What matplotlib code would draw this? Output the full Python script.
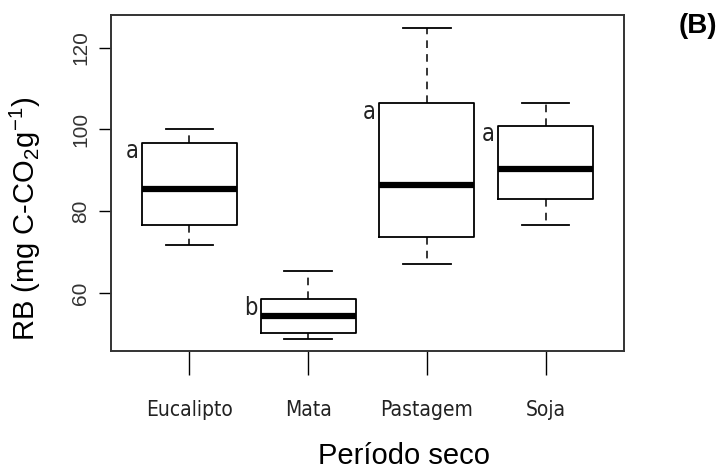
import matplotlib
matplotlib.use('Agg')
import matplotlib.pyplot as plt

# Box statistics (RB, dry period)
categories = ['Eucalipto', 'Mata', 'Pastagem', 'Soja']
whis_low = [71.7, 48.8, 67.0, 76.7]
q1 = [76.7, 50.2, 73.6, 83.1]
medians = [85.4, 54.4, 86.4, 90.4]
q3 = [96.8, 58.5, 106.4, 100.9]
whis_high = [100.0, 65.3, 124.7, 106.4]
letters = ['a', 'b', 'a', 'a']
y_ticks = [60, 80, 100, 120]

plt.rcParams['font.family'] = ['Liberation Sans', 'DejaVu Sans']
plt.rcParams['mathtext.default'] = 'regular'
narrow = dict(family='DejaVu Sans', fontstretch='condensed')

fig = plt.figure(figsize=(7.2, 4.71), dpi=100)
ax = fig.add_axes([0.1542, 0.2548, 0.7125, 0.7134])

stats = []
for i in range(len(categories)):
    stats.append({'label': categories[i], 'whislo': whis_low[i], 'q1': q1[i],
                  'med': medians[i], 'q3': q3[i], 'whishi': whis_high[i], 'fliers': []})

ax.bxp(stats, positions=[1, 2, 3, 4], widths=0.8, capwidths=0.4, showfliers=False,
       boxprops=dict(color='black', linewidth=1.3),
       medianprops=dict(color='black', linewidth=4.5, solid_capstyle='butt'),
       whiskerprops=dict(color='black', linewidth=1.1, linestyle=(0, (5, 4))),
       capprops=dict(color='black', linewidth=1.3))

# significance letters left of each box
for i in range(len(categories)):
    ax.text(i + 1 - 0.43, q3[i] + 0.8, letters[i], ha='right', va='top',
            fontsize=17, color='#222222', **narrow)

ax.set_xlim(0.34, 4.66)
ax.set_ylim(45.8, 128.0)

ax.set_yticks(y_ticks)
ax.set_yticklabels([str(v) for v in y_ticks], rotation=90, va='center', fontsize=15, color='#333333')
ax.tick_params(axis='y', length=9, width=1.0, pad=6)
ax.set_xticks([1, 2, 3, 4])
ax.set_xticklabels(categories, fontsize=15, color='#222222', **narrow)
ax.tick_params(axis='x', length=17, width=1.0, pad=18)

for s in ax.spines.values():
    s.set_linewidth(1.4)
    s.set_color('#333333')

ax.set_ylabel('RB (mg C-CO$_2$g$^{-1}$)', fontsize=21)
ax.yaxis.set_label_coords(-0.133, 0.393)
ax.set_xlabel('Período seco', fontsize=21)
ax.xaxis.set_label_coords(0.571, -0.272)

fig.text(0.996, 0.945, '(B)', fontsize=20, fontweight='bold', ha='right', va='center')

fig.savefig('out.png', dpi=100)
